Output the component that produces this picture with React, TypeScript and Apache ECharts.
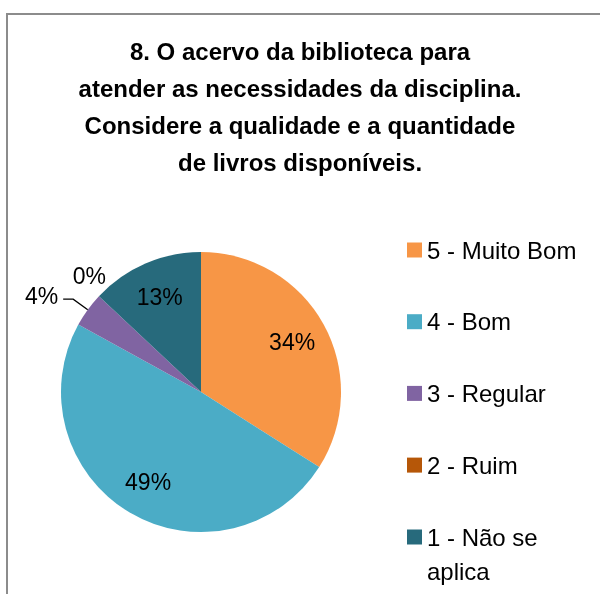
import React, { useEffect, useRef } from "react";
import * as echarts from "echarts";

const titleLines = [
  "8. O acervo da biblioteca para",
  "atender as necessidades da disciplina.",
  "Considere a qualidade e a quantidade",
  "de livros disponíveis.",
];
const categories = ["5 - Muito Bom", "4 - Bom", "3 - Regular", "2 - Ruim", "1 - Não se aplica"];
const values = [34, 49, 4, 0, 13];
const colors = ["#F79646", "#4BACC6", "#8064A2", "#B65708", "#276A7C"];

const FONT = "'Liberation Sans', Arial, sans-serif";
const SMALL = 5;

export default function App() {
  const ref = useRef<HTMLDivElement>(null);
  useEffect(() => {
    if (!ref.current) return;
    const chart = echarts.init(ref.current, undefined, { renderer: "svg" });
    const fmt = (p: any) => Math.round(p.percent) + "%";
    const mainData = categories.map((name, i) => ({
      name,
      value: values[i],
      itemStyle: { color: colors[i] },
      label: { show: values[i] < SMALL },
      labelLine: {
        show: values[i] > 0 && values[i] < SMALL,
        length: values[i] > 0 ? 18 : 22,
        length2: values[i] > 0 ? 10 : 0,
      },
    }));
    const overlayData = categories.map((name, i) => ({
      name,
      value: values[i],
      label: { show: values[i] >= SMALL },
    }));
    const legendText = { fontFamily: FONT, fontSize: 24, lineHeight: 34, color: "#000" };
    chart.setOption({
      animation: false,
      title: {
        text: titleLines.join("\n"),
        left: "center",
        top: 33,
        padding: 0,
        textStyle: {
          fontFamily: FONT,
          fontSize: 24,
          fontWeight: "bold",
          lineHeight: 37,
          color: "#000",
        },
      },
      graphic: [
        {
          type: "rect",
          shape: { x: 7, y: 14, width: 640, height: 640 },
          style: { fill: "none", stroke: "#8c8c8c", lineWidth: 2 },
          silent: true,
        },
      ],
      legend: [
        {
          orient: "vertical",
          left: 407,
          top: 233,
          padding: 0,
          itemGap: 37.7,
          itemWidth: 15,
          itemHeight: 15,
          icon: "rect",
          selectedMode: false,
          data: categories.slice(0, 4),
          textStyle: legendText,
        },
        {
          orient: "vertical",
          left: 407,
          top: 486,
          padding: 0,
          itemWidth: 15,
          itemHeight: 15,
          icon: "rect",
          selectedMode: false,
          data: categories.slice(4),
          formatter: (name: string) => "\n" + name,
          textStyle: { ...legendText, width: 150, overflow: "break" },
        },
      ],
      series: [
        {
          type: "pie",
          center: [201, 392],
          radius: 140,
          startAngle: 90,
          clockwise: true,
          avoidLabelOverlap: false,
          data: mainData,
          label: {
            position: "outside",
            formatter: fmt,
            fontFamily: FONT,
            fontSize: 23,
            color: "#000",
          },
          labelLine: { lineStyle: { color: "#000", width: 1.3 }, smooth: false },
          labelLayout: (p: any) => (values[p.dataIndex] === 0 ? { dx: 28, dy: -5 } : { dy: -3 }),
        },
        {
          type: "pie",
          center: [201, 392],
          radius: [62, 140],
          startAngle: 90,
          clockwise: true,
          silent: true,
          avoidLabelOverlap: false,
          itemStyle: { color: "rgba(0,0,0,0)" },
          data: overlayData,
          label: {
            position: "inside",
            formatter: fmt,
            fontFamily: FONT,
            fontSize: 23,
            color: "#000",
          },
          labelLine: { show: false },
        },
      ],
    });
    return () => chart.dispose();
  }, []);
  return (
    <div
      ref={ref}
      style={{ position: "fixed", left: 0, top: 0, width: 600, height: 594 }}
    />
  );
}
